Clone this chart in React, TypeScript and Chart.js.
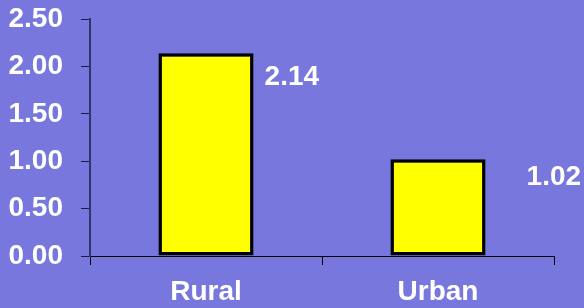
import React, { useEffect, useRef } from "react";
import { Chart, registerables } from "chart.js";

Chart.register(...registerables);

const categories = ["Rural", "Urban"];
const values = [2.14, 1.02];
const valueLabels = ["2.14", "1.02"];
const yTicks = [0, 0.5, 1, 1.5, 2, 2.5];

const BG = "#7777dd";
const FONT = "'Liberation Sans', Arial, sans-serif";
const LABEL_DX = [11, 41];
const LABEL_DY = [24, 18];

const valueLabelPlugin = {
  id: "valueLabels",
  afterDatasetsDraw(chart: any) {
    const ctx = chart.ctx;
    const meta = chart.getDatasetMeta(0);
    ctx.save();
    ctx.fillStyle = "#ffffff";
    ctx.font = `bold 28px ${FONT}`;
    ctx.textAlign = "left";
    ctx.textBaseline = "middle";
    meta.data.forEach((el: any, i: number) => {
      const x = el.x + el.width / 2 + LABEL_DX[i];
      const y = el.y + LABEL_DY[i];
      ctx.fillText(valueLabels[i], x, y);
    });
    ctx.restore();
  },
};

export default function App() {
  const ref = useRef<HTMLCanvasElement>(null);
  useEffect(() => {
    if (!ref.current) return;
    const chart = new Chart(ref.current, {
      type: "bar",
      data: {
        labels: categories,
        datasets: [
          {
            data: values,
            backgroundColor: "#ffff00",
            borderColor: "#000000",
            borderWidth: 3.5,
            borderSkipped: false,
            barPercentage: 0.41,
            categoryPercentage: 1,
          },
        ],
      },
      options: {
        animation: false,
        responsive: false,
        maintainAspectRatio: false,
        layout: { padding: { top: 19, right: 30, left: 0, bottom: 0 } },
        plugins: {
          legend: { display: false },
          tooltip: { enabled: false },
        },
        scales: {
          x: {
            offset: true,
            grid: {
              offset: true,
              drawOnChartArea: false,
              drawTicks: true,
              tickLength: 9,
              color: "#000000",
              lineWidth: 1,
            },
            border: { color: "#000000", width: 1 },
            ticks: {
              color: "#ffffff",
              font: { family: FONT, size: 28, weight: "bold" },
              padding: 10,
              maxRotation: 0,
            },
            afterFit(scale: any) {
              scale.height = 52;
              scale.paddingLeft = 0;
              scale.paddingRight = 0;
            },
          },
          y: {
            min: 0,
            max: 2.5,
            afterBuildTicks(scale: any) {
              scale.ticks = yTicks.map((v) => ({ value: v }));
            },
            grid: {
              drawOnChartArea: false,
              drawTicks: true,
              tickLength: 9,
              color: "#1a1a40",
              lineWidth: 1,
            },
            border: { color: "#333366", width: 2 },
            ticks: {
              color: "#ffffff",
              font: { family: FONT, size: 28, weight: "bold" },
              padding: 18,
              callback: (v: any) => Number(v).toFixed(2),
            },
            afterFit(scale: any) {
              scale.width = 90;
              scale.paddingTop = 0;
              scale.paddingBottom = 0;
            },
          },
        },
      },
      plugins: [valueLabelPlugin],
    });
    return () => chart.destroy();
  }, []);
  return (
    <div
      style={{
        position: "fixed",
        left: 0,
        top: 0,
        width: 584,
        height: 308,
        background: BG,
      }}
    >
      <canvas ref={ref} width={584} height={308} style={{ width: 584, height: 308 }} />
    </div>
  );
}
